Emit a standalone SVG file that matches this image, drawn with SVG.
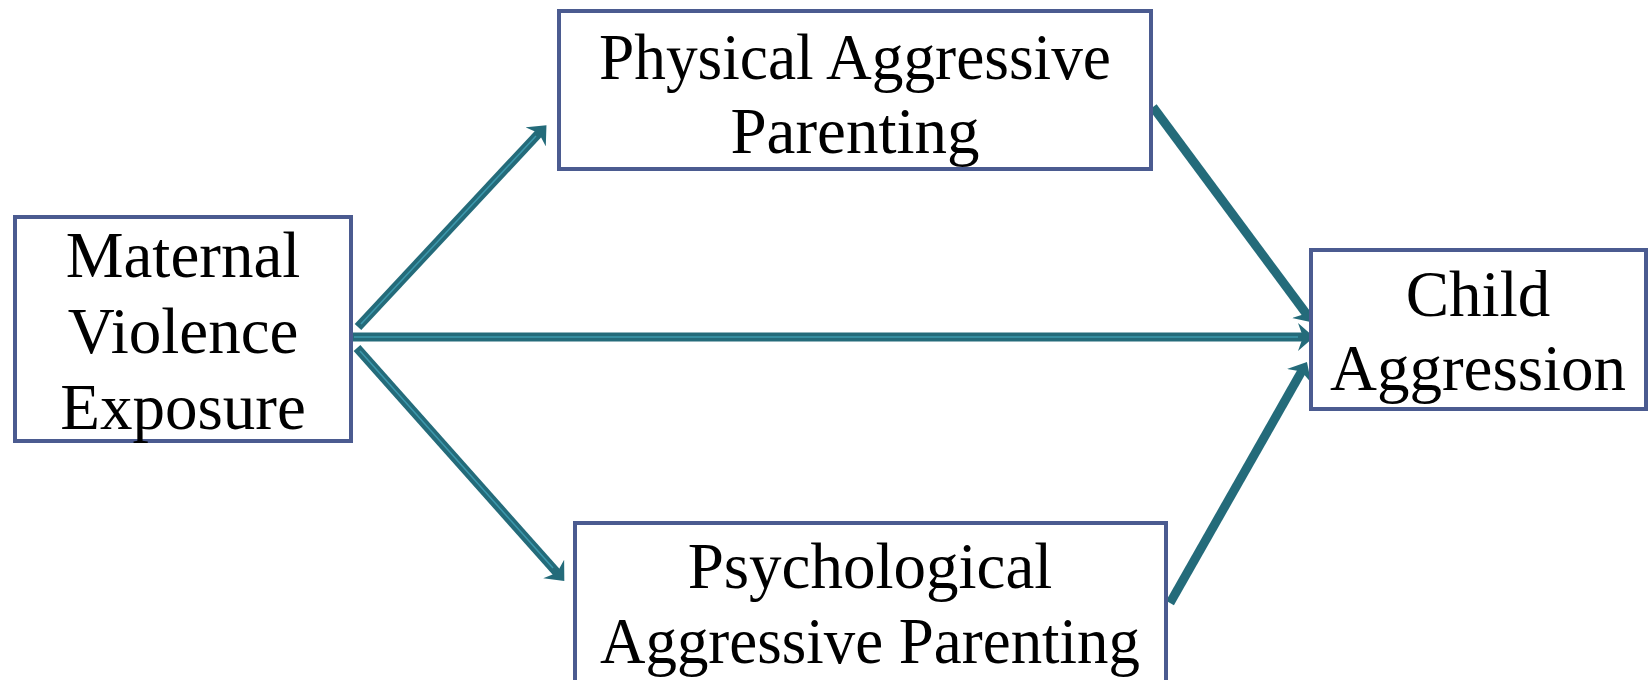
<svg xmlns="http://www.w3.org/2000/svg" width="1651" height="680" viewBox="0 0 1651 680">
<style>
.box{fill:#fff;stroke:#4b5b90;stroke-width:4;}
.lbl{font-family:"Liberation Serif","Times New Roman",serif;font-size:65px;fill:#000;text-anchor:middle;}
.conn{fill:none;stroke:#246b7a;stroke-width:9;}
.inner{fill:none;stroke:#3c98ad;stroke-width:1.5;}
</style>
<defs>
<marker id="ah" viewBox="0 0 16 28" markerUnits="userSpaceOnUse" markerWidth="16" markerHeight="28" refX="8" refY="14" orient="auto">
<path d="M0,0 L16,14 L0,28 L5,14 z" fill="#246b7a"/>
</marker>
</defs>
<rect width="1651" height="680" fill="#fff"/>
<g id="connectors">
<path class="conn" d="M358,327 L541,131" marker-end="url(#ah)"/>
<path class="inner" d="M361,324 L536,136"/>
<path class="conn" d="M351,337 L1306,337" marker-end="url(#ah)"/>
<path class="inner" d="M354,337 L1298,337"/>
<path class="conn" d="M357,348 L559,575" marker-end="url(#ah)"/>
<path class="inner" d="M360,351 L553,568"/>
<path class="conn" d="M1153,107 L1308,316" marker-end="url(#ah)"/>
<path class="conn" d="M1170,603 L1303,369" marker-end="url(#ah)"/>
</g>
<g id="node-physical">
<rect class="box" x="559" y="11" width="592" height="158"/>
<text class="lbl" x="855" y="79" textLength="512" lengthAdjust="spacingAndGlyphs">Physical Aggressive</text>
<text class="lbl" x="855" y="153">Parenting</text>
</g>
<g id="node-maternal">
<rect class="box" x="15" y="217" width="336" height="224"/>
<text class="lbl" x="183" y="277">Maternal</text>
<text class="lbl" x="183" y="353">Violence</text>
<text class="lbl" x="183" y="429">Exposure</text>
</g>
<g id="node-child">
<rect class="box" x="1311" y="250" width="335" height="159"/>
<text class="lbl" x="1478" y="316">Child</text>
<text class="lbl" x="1478" y="390">Aggression</text>
</g>
<g id="node-psych">
<rect class="box" x="575" y="523" width="591" height="170"/>
<text class="lbl" x="870" y="588">Psychological</text>
<text class="lbl" x="870" y="663" textLength="540" lengthAdjust="spacingAndGlyphs">Aggressive Parenting</text>
</g>
</svg>
